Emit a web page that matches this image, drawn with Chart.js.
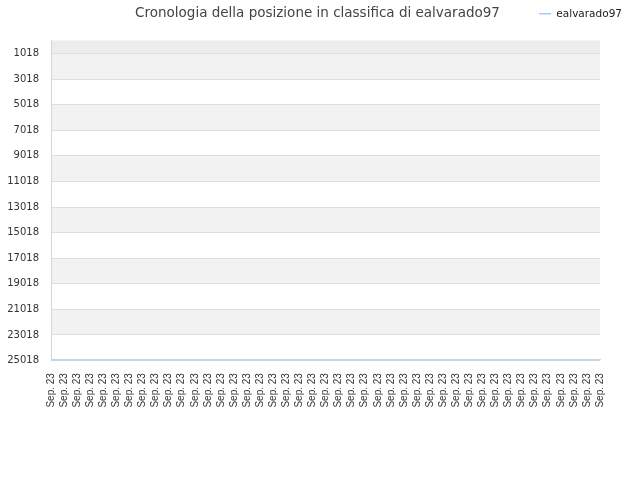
<!DOCTYPE html>
<html>
<head>
<meta charset="utf-8">
<script src="https://cdn.jsdelivr.net/npm/chart.js@4/dist/chart.umd.min.js"></script>
<style>
  html, body { margin: 0; padding: 0; background: #fff; }
  #wrap { width: 640px; height: 480px; }
</style>
</head>
<body>
<div id="wrap"><canvas id="rankChart"></canvas></div>
<script>
const PLAYER = "ealvarado97";
const TITLE = "Cronologia della posizione in classifica di " + PLAYER;

// 43 samples, all in Sep. 23
const LABELS = Array(43).fill("Sep. 23");
const RANKS = [
  25018, 25018, 25018, 25018, 25018, 25018, 25018, 25018, 25018, 25018,
  25018, 25018, 25018, 25018, 25018, 25018, 25018, 25018, 25018, 25018,
  25018, 25018, 25018, 25018, 25018, 25018, 25018, 25018, 25018, 25018,
  25018, 25018, 25018, 25018, 25018, 25018, 25018, 25018, 25018, 25018,
  25018, 25018, 25018,
];
const Y_TICKS = [1018, 3018, 5018, 7018, 9018, 11018, 13018, 15018, 17018, 19018, 21018, 23018, 25018];

const FONT = "'DejaVu Sans', sans-serif";
const FONT_X = "'Liberation Sans', Arial, sans-serif";

// alternating grey bands behind the grid
const bandsPlugin = {
  id: "bands",
  beforeDraw(chart) {
    const { ctx, chartArea, scales } = chart;
    const y = scales.y;
    if (!chartArea) return;
    ctx.save();
    ctx.fillStyle = "#ececec";
    const first = y.getPixelForValue(Y_TICKS[0]);
    ctx.fillRect(chartArea.left, chartArea.top, chartArea.width, first - chartArea.top);
    ctx.fillStyle = "#f2f2f2";
    for (let i = 0; i < Y_TICKS.length - 1; i += 2) {
      const a = y.getPixelForValue(Y_TICKS[i]);
      const b = y.getPixelForValue(Y_TICKS[i + 1]);
      ctx.fillRect(chartArea.left, a, chartArea.width, b - a);
    }
    ctx.restore();
  },
};

// empty axes only used to reserve room on the right and top
const spacer = (size) => ({
  display: true,
  grid: { display: false, drawTicks: false },
  border: { display: false },
  ticks: { display: false },
  afterFit(scale) {
    if (scale.isHorizontal()) scale.height = size;
    else scale.width = size;
  },
});

new Chart(document.getElementById("rankChart"), {
  type: "line",
  data: {
    labels: LABELS,
    datasets: [
      {
        label: PLAYER,
        data: RANKS,
        borderColor: "#a6cdf1",
        backgroundColor: "#a6cdf1",
        borderWidth: 1.5,
        pointRadius: 0,
        tension: 0,
      },
    ],
  },
  options: {
    responsive: true,
    maintainAspectRatio: false,
    animation: false,
    layout: { padding: { left: 3, right: 8, top: 0, bottom: 57 } },
    plugins: {
      title: {
        display: true,
        text: TITLE,
        color: "#444",
        font: { family: FONT, size: 13.5, weight: "normal" },
        padding: { top: 5, bottom: -22.6 },
      },
      legend: {
        position: "top",
        align: "end",
        labels: {
          color: "#222",
          font: { family: FONT, size: 10.5 },
          boxWidth: 12,
          boxHeight: 0,
          padding: 10,
        },
      },
      tooltip: { enabled: false },
    },
    scales: {
      x: {
        offset: false,
        grid: { display: false, drawTicks: false },
        border: { color: "#d6d6d6" },
        ticks: {
          color: "#333",
          font: { family: FONT_X, size: 10 },
          maxRotation: 90,
          minRotation: 90,
          autoSkip: false,
          padding: 14,
        },
      },
      top: { type: "category", position: "top", ...spacer(10) },
      y: {
        reverse: true,
        min: 0,
        max: 25018,
        afterBuildTicks(scale) {
          scale.ticks = Y_TICKS.map((v) => ({ value: v }));
        },
        afterFit(scale) {
          scale.width = 48;
        },
        grid: { color: "#dedede", drawTicks: false },
        border: { color: "#d6d6d6" },
        ticks: {
          color: "#333",
          font: { family: FONT, size: 10 },
          padding: 12,
          callback: (v) => String(v),
        },
      },
      right: { type: "linear", position: "right", ...spacer(32) },
    },
  },
  plugins: [bandsPlugin],
});
</script>
</body>
</html>
